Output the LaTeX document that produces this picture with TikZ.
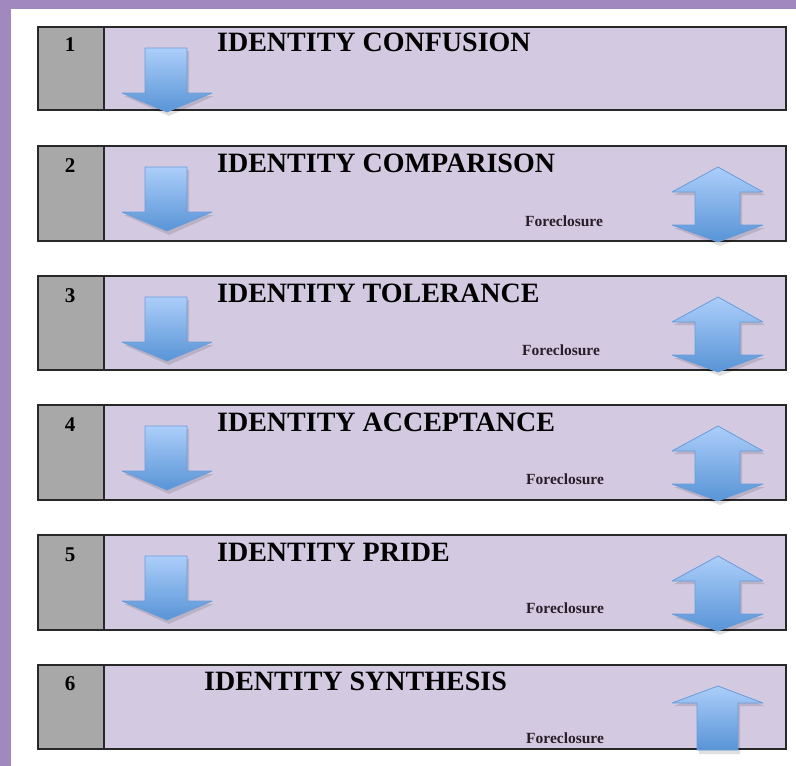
\documentclass[tikz,border=0pt]{standalone}
\usepackage{fontspec}
\setmainfont{Liberation Serif}
\definecolor{framepurple}{RGB}{161,137,192}
\definecolor{boxfill}{RGB}{211,202,225}
\definecolor{numfill}{RGB}{168,168,168}
\definecolor{boxline}{RGB}{40,40,40}
\definecolor{arrtop}{RGB}{172,206,250}
\definecolor{arrbot}{RGB}{88,148,214}
\definecolor{arredge}{RGB}{105,155,218}
\newcommand{\DownArr}[1]{%
  \fill[black,opacity=0.12] (147,#1+25) -- (189,#1+25) -- (189,#1+70) -- (214,#1+70) -- (169,#1+90) -- (124,#1+70) -- (147,#1+70) -- cycle;
  \draw[arrowsty] (145,#1+22) -- (187,#1+22) -- (187,#1+67) -- (212,#1+67) -- (167,#1+86) -- (122,#1+67) -- (145,#1+67) -- cycle;}
\newcommand{\BothArr}[1]{%
  \fill[black,opacity=0.12] (720,#1+25) -- (765,#1+50) -- (742,#1+50) -- (742,#1+83) -- (765,#1+83) -- (720,#1+101) -- (674,#1+83) -- (697,#1+83) -- (697,#1+50) -- (674,#1+50) -- cycle;
  \draw[arrowsty] (718,#1+22) -- (763,#1+47) -- (740,#1+47) -- (740,#1+80) -- (763,#1+80) -- (718,#1+97) -- (672,#1+80) -- (695,#1+80) -- (695,#1+47) -- (672,#1+47) -- cycle;}
\newcommand{\UpArr}[1]{%
  \fill[black,opacity=0.12] (720,#1+25) -- (765,#1+42) -- (740,#1+42) -- (740,#1+90) -- (699,#1+90) -- (699,#1+42) -- (674,#1+42) -- cycle;
  \draw[arrowsty] (718,#1+22) -- (763,#1+39) -- (738,#1+39) -- (738,#1+86) -- (697,#1+86) -- (697,#1+39) -- (672,#1+39) -- cycle;}
\begin{document}
\begin{tikzpicture}[x=1pt,y=-1pt,
  stagebox/.style={draw=boxline,line width=1.8pt,fill=boxfill,rectangle,inner sep=0pt,
    minimum width=748pt,anchor=north west},
  numbox/.style={draw=boxline,line width=1.8pt,fill=numfill,rectangle,inner sep=0pt,
    minimum width=66pt,anchor=north west},
  numtxt/.style={anchor=base,inner sep=0pt,font=\fontsize{21}{21}\selectfont\bfseries,text=black},
  titletxt/.style={anchor=base west,inner sep=0pt,font=\fontsize{28}{28}\selectfont\bfseries,text=black},
  foretxt/.style={anchor=base west,inner sep=0pt,font=\fontsize{15.5}{15.5}\selectfont\bfseries,text={rgb,255:red,40;green,30;blue,40}},
  arrowsty/.style={draw=arredge,line width=0.8pt,top color=arrtop,bottom color=arrbot,line join=round}]
\useasboundingbox (0,0) rectangle (796,766);
\fill[white] (0,0) rectangle (796,766);
\fill[framepurple] (0,0) rectangle (796,9);
\fill[framepurple] (0,0) rectangle (11,766);
% boxes
\node[stagebox,minimum height=83pt] (b1) at (37,26) {};
\node[numbox,minimum height=83pt] (n1) at (37,26) {};
\node[stagebox,minimum height=95pt] (b2) at (37,145) {};
\node[numbox,minimum height=95pt] (n2) at (37,145) {};
\node[stagebox,minimum height=94pt] (b3) at (37,275) {};
\node[numbox,minimum height=94pt] (n3) at (37,275) {};
\node[stagebox,minimum height=95pt] (b4) at (37,404) {};
\node[numbox,minimum height=95pt] (n4) at (37,404) {};
\node[stagebox,minimum height=95pt] (b5) at (37,534) {};
\node[numbox,minimum height=95pt] (n5) at (37,534) {};
\node[stagebox,minimum height=84pt] (b6) at (37,664) {};
\node[numbox,minimum height=84pt] (n6) at (37,664) {};
% numbers
\node[numtxt] (t1) at (70,51) {1};
\node[numtxt] (t2) at (70,172) {2};
\node[numtxt] (t3) at (70,302) {3};
\node[numtxt] (t4) at (70,431) {4};
\node[numtxt] (t5) at (70,561) {5};
\node[numtxt] (t6) at (70,690) {6};
% titles
\node[titletxt] (s1) at (217,51) {IDENTITY CONFUSION};
\node[titletxt] (s2) at (217,172) {IDENTITY COMPARISON};
\node[titletxt] (s3) at (217,302) {IDENTITY TOLERANCE};
\node[titletxt] (s4) at (217,431) {IDENTITY ACCEPTANCE};
\node[titletxt] (s5) at (217,561) {IDENTITY PRIDE};
\node[titletxt] (s6) at (204,690) {IDENTITY SYNTHESIS};
% foreclosure labels
\node[foretxt] (f2) at (525,226) {Foreclosure};
\node[foretxt] (f3) at (522,355) {Foreclosure};
\node[foretxt] (f4) at (526,484) {Foreclosure};
\node[foretxt] (f5) at (526,613) {Foreclosure};
\node[foretxt] (f6) at (526,743) {Foreclosure};
% arrows
\DownArr{26}
\DownArr{145}
\DownArr{275}
\DownArr{404}
\DownArr{534}
\BothArr{145}
\BothArr{275}
\BothArr{404}
\BothArr{534}
\UpArr{664}
\end{tikzpicture}
\end{document}
